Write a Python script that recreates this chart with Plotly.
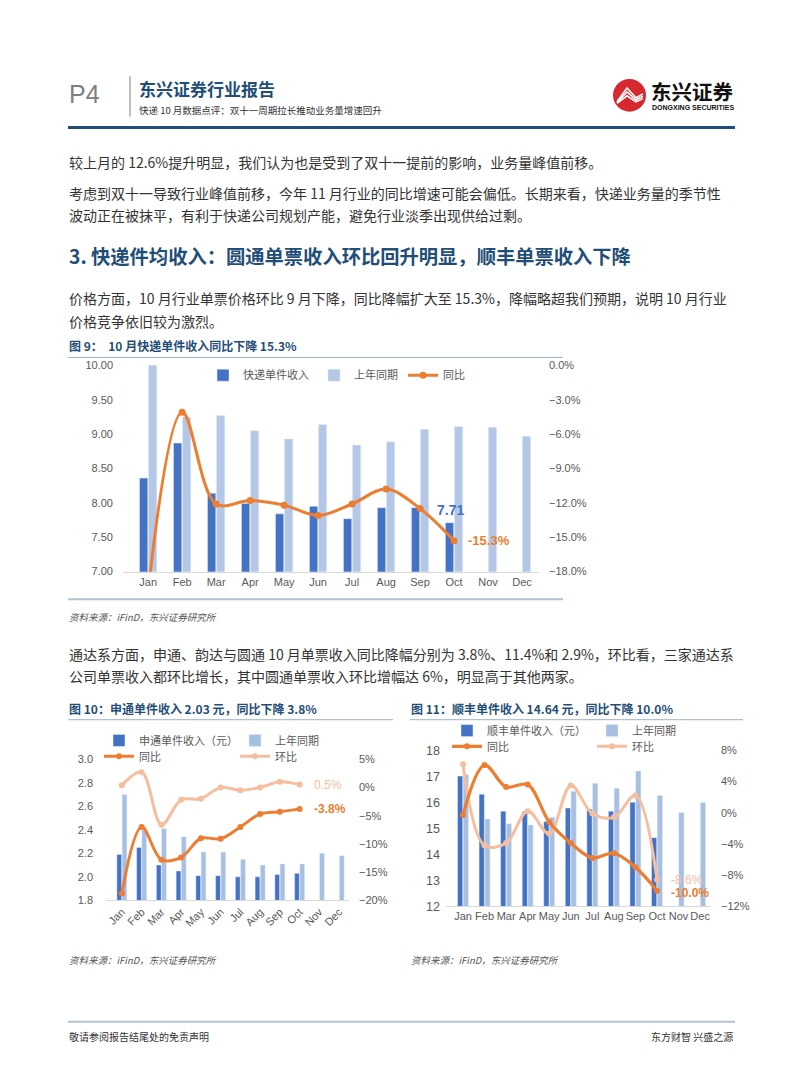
import plotly.graph_objects as go

W, H = 802, 1087
def X(px): return px / W
def Y(py): return 1 - py / H

CJK = "Noto Sans CJK SC"
NUM = "Liberation Sans, Noto Sans CJK SC"

months = ["Jan", "Feb", "Mar", "Apr", "May", "Jun", "Jul", "Aug", "Sep", "Oct", "Nov", "Dec"]
months_ytd = months[:10]

# Figure 9: industry revenue per parcel
ind_rev = [8.36, 8.87, 8.14, 7.99, 7.84, 7.95, 7.77, 7.93, 7.93, 7.71]
ind_rev_ly = [10.40, 9.25, 9.27, 9.05, 8.93, 9.14, 8.84, 8.89, 9.07, 9.11, 9.10, 8.97]
ind_yoy = [-19.6, -4.1, -12.1, -11.8, -12.2, -13.1, -12.1, -10.8, -12.5, -15.3]

# Figure 10: STO
sto_rev = [2.19, 2.25, 2.10, 2.05, 2.01, 2.01, 2.00, 2.00, 2.02, 2.03]
sto_rev_ly = [2.70, 2.40, 2.41, 2.34, 2.21, 2.21, 2.15, 2.10, 2.11, 2.11, 2.20, 2.18]
sto_yoy = [-18.8, -7.0, -12.8, -12.4, -9.0, -9.1, -7.0, -4.7, -4.3, -3.8]
sto_mom = [0.4, 2.7, -6.6, -2.2, -2.0, 0.0, -0.5, 0.0, 1.0, 0.5]

# Figure 11: SF
sf_rev = [17.01, 16.31, 15.66, 15.65, 15.26, 15.78, 15.74, 15.66, 16.00, 14.64]
sf_rev_ly = [17.07, 15.36, 15.17, 15.13, 15.42, 16.42, 16.73, 16.54, 17.20, 16.26, 15.61, 15.99]
sf_yoy = [-0.3, 6.1, 3.3, 3.6, -1.2, -3.9, -5.8, -5.2, -7.0, -10.0]
sf_mom = [6.2, -4.2, -3.9, 0.2, -2.7, 3.5, -0.1, -0.6, 2.2, -8.6]

DARK = "#4472C4"
LIGHT9 = "#B4C7E7"
LIGHT = "#A7BFE0"
ORANGE = "#ED7D31"
PALE = "#F6BE9E"
TICK = "#595959"

fig = go.Figure()

# ---- Figure 9 ----
fig.add_bar(x=months_ytd, y=ind_rev, name="快递单件收入", marker_color=DARK,
            xaxis="x", yaxis="y", legend="legend")
fig.add_bar(x=months, y=ind_rev_ly, name="上年同期", marker_color=LIGHT9,
            xaxis="x", yaxis="y", legend="legend")
fig.add_scatter(x=months_ytd, y=ind_yoy, name="同比", mode="lines+markers",
                line=dict(color=ORANGE, width=3, shape="spline", smoothing=1.0),
                marker=dict(size=7, color=ORANGE), xaxis="x", yaxis="y2",
                legend="legend")

# ---- Figure 10 ----
fig.add_bar(x=months_ytd, y=sto_rev, name="申通单件收入（元）", marker_color=DARK,
            xaxis="x2", yaxis="y3", legend="legend2")
fig.add_bar(x=months, y=sto_rev_ly, name="上年同期", marker_color=LIGHT,
            xaxis="x2", yaxis="y3", legend="legend2")
fig.add_scatter(x=months_ytd, y=sto_mom, name="环比", mode="lines+markers",
                line=dict(color=PALE, width=3, shape="spline", smoothing=1.0),
                marker=dict(size=6, color=PALE), xaxis="x2", yaxis="y4",
                legend="legend3", legendrank=2)
fig.add_scatter(x=months_ytd, y=sto_yoy, name="同比", mode="lines+markers",
                line=dict(color=ORANGE, width=3, shape="spline", smoothing=1.0),
                marker=dict(size=6, color=ORANGE), xaxis="x2", yaxis="y4",
                legend="legend3", legendrank=1)

# ---- Figure 11 ----
fig.add_bar(x=months_ytd, y=sf_rev, name="顺丰单件收入（元）", marker_color=DARK,
            xaxis="x3", yaxis="y5", legend="legend4")
fig.add_bar(x=months, y=sf_rev_ly, name="上年同期", marker_color=LIGHT,
            xaxis="x3", yaxis="y5", legend="legend4")
fig.add_scatter(x=months_ytd, y=sf_mom, name="环比", mode="lines+markers",
                line=dict(color=PALE, width=3, shape="spline", smoothing=1.0),
                marker=dict(size=6, color=PALE), xaxis="x3", yaxis="y6",
                legend="legend5", legendrank=2)
fig.add_scatter(x=months_ytd, y=sf_yoy, name="同比", mode="lines+markers",
                line=dict(color=ORANGE, width=3.2, shape="spline", smoothing=1.0),
                marker=dict(size=6, color=ORANGE), xaxis="x3", yaxis="y6",
                legend="legend5", legendrank=1)

def tf(size):
    return dict(family=NUM, size=size, color=TICK)

def xax(dom, anchor, angle=0, size=11):
    return dict(domain=[X(dom[0]), X(dom[1])], anchor=anchor, categoryorder="array",
                categoryarray=months, showgrid=False, showline=True, linecolor="#D9D9D9",
                linewidth=1, ticks="", tickfont=tf(size), tickangle=angle, zeroline=False,
                fixedrange=True)

def yax(dom, anchor, rng, dtick, fmt, standoff, suffix="", side="left", overlay=None, size=11):
    d = dict(domain=[Y(dom[0]), Y(dom[1])], anchor=anchor, range=rng, dtick=dtick,
             tick0=rng[0], tickformat=fmt, ticksuffix=suffix, showgrid=False,
             zeroline=False, showline=False, ticks="", tickfont=tf(size), side=side,
             ticklabelstandoff=standoff, fixedrange=True)
    if overlay:
        d["overlaying"] = overlay
    return d

legfont = dict(family=CJK, size=11, color=TICK)
def leg(x, y, entry=0):
    d = dict(orientation="h", x=X(x), y=Y(y), xanchor="left", yanchor="middle",
             font=legfont, bgcolor="rgba(0,0,0,0)", itemwidth=30, traceorder="normal")
    if entry:
        d["entrywidth"] = entry
        d["entrywidthmode"] = "pixels"
    return d

fig.update_layout(
    width=W, height=H, margin=dict(l=0, r=0, t=0, b=0),
    paper_bgcolor="white", plot_bgcolor="rgba(0,0,0,0)",
    barmode="group", bargap=0.47, bargroupgap=0.08,
    showlegend=True,
    xaxis=xax((123, 539), "y"),
    yaxis=yax((572, 363), "x", [7, 10], 0.5, ".2f", 9),
    yaxis2=yax((572, 363), "x", [-18, 0], 3, ".1f", 9, "%", "right", "y"),
    xaxis2=xax((106, 349), "y3", -45),
    yaxis3=yax((905, 762), "x2", [1.8, 3.0], 0.2, ".1f", 12),
    yaxis4=yax((905, 762), "x2", [-20, 5], 5, "d", 9, "%", "right", "y3"),
    xaxis3=xax((446, 711), "y5"),
    yaxis5=yax((911, 753), "x3", [12, 18], 1, "d", 5, size=12.5),
    yaxis6=yax((911, 753), "x3", [-12, 8], 4, "d", 9, "%", "right", "y5"),
    legend=leg(203, 373),
    legend2=leg(99, 743, 91),
    legend3=leg(99, 759, 91),
    legend4=leg(447, 733, 100),
    legend5=leg(447, 749, 100),
)

ann = []
def txt(x, y, s, size=14, color="#333333", bold=False, family=CJK, anchor="left", style="normal"):
    ann.append(dict(x=X(x), y=Y(y), xref="paper", yref="paper", text=("<b>%s</b>" % s) if bold else s,
                    showarrow=False, xanchor=anchor, yanchor="middle",
                    font=dict(family=family, size=size, color=color, style=style)))

BLUE = "#1F4E79"
# header
txt(67, 88, "P4", 25, "#808080", family="Liberation Sans")
txt(137, 83, "东兴证券行业报告", 17, BLUE, True)
txt(137, 104, "快递 10 月数据点评：双十一周期拉长推动业务量增速回升", 9.5, "#333333")
txt(649, 85, "东兴证券", 20.5, "#111111", True)
txt(650, 102, "DONGXING SECURITIES", 7, "#111111", True, family="Liberation Sans")

# body text
txt(67, 157, "较上月的 12.6%提升明显，我们认为也是受到了双十一提前的影响，业务量峰值前移。", 14)
txt(67, 188, "考虑到双十一导致行业峰值前移，今年 11 月行业的同比增速可能会偏低。长期来看，快递业务量的季节性", 14)
txt(67, 211, "波动正在被抹平，有利于快递公司规划产能，避免行业淡季出现供给过剩。", 14)
txt(67, 252, "3. 快递件均收入：圆通单票收入环比回升明显，顺丰单票收入下降", 19.3, BLUE, True)
txt(67, 295, "价格方面，10 月行业单票价格环比 9 月下降，同比降幅扩大至 15.3%，降幅略超我们预期，说明 10 月行业", 14)
txt(67, 318, "价格竞争依旧较为激烈。", 14)
txt(67, 343, "图 9：  10 月快递单件收入同比下降 15.3%", 12, BLUE, True)
txt(67, 618, "资料来源：iFinD，东兴证券研究所", 9.5, "#555555", style="italic")
txt(67, 655, "通达系方面，申通、韵达与圆通 10 月单票收入同比降幅分别为 3.8%、11.4%和 2.9%，环比看，三家通达系", 14)
txt(67, 678, "公司单票收入都环比增长，其中圆通单票收入环比增幅达 6%，明显高于其他两家。", 14)
txt(67, 711, "图 10：申通单件收入 2.03 元，同比下降 3.8%", 12, BLUE, True)
txt(409, 711, "图 11：顺丰单件收入 14.64 元，同比下降 10.0%", 12, BLUE, True)
txt(67, 965, "资料来源：iFinD，东兴证券研究所", 9.5, "#555555", style="italic")
txt(409, 965, "资料来源：iFinD，东兴证券研究所", 9.5, "#555555", style="italic")
txt(67, 1043, "敬请参阅报告结尾处的免责声明", 10, "#333333")
txt(735, 1043, "东方财智 兴盛之源", 10, "#333333", anchor="right")

# data labels
def dlab(xr, yr, x, y, s, color, xshift, yshift=0, anchor="left", size=13, bold=True):
    ann.append(dict(x=x, y=y, xref=xr, yref=yr, text=("<b>%s</b>" % s) if bold else s,
                    showarrow=False, xanchor=anchor, yanchor="middle", xshift=xshift,
                    yshift=yshift, font=dict(family=NUM, size=size, color=color)))

dlab("x", "y", "Oct", ind_rev[-1], "%.2f" % ind_rev[-1], DARK, -4, 13, "center", 14)
dlab("x", "y2", "Oct", ind_yoy[-1], "%.1f%%" % ind_yoy[-1], ORANGE, 12, 0, "left", 13)
dlab("x2", "y4", "Oct", sto_mom[-1], "%.1f%%" % sto_mom[-1], PALE, 12, 0, "left", 12, False)
dlab("x2", "y4", "Oct", sto_yoy[-1], "%.1f%%" % sto_yoy[-1], ORANGE, 12, 0, "left", 12)
dlab("x3", "y6", "Oct", sf_mom[-1], "%.1f%%" % sf_mom[-1], PALE, 12, 0, "left", 12, False)
dlab("x3", "y6", "Oct", sf_yoy[-1], "%.1f%%" % sf_yoy[-1], ORANGE, 12, -2, "left", 12)

fig.update_layout(annotations=ann)

shapes = []
def hline(x0, x1, y, color, w):
    shapes.append(dict(type="line", xref="paper", yref="paper", x0=X(x0), x1=X(x1),
                       y0=Y(y), y1=Y(y), line=dict(color=color, width=w)))

shapes.append(dict(type="line", xref="paper", yref="paper", x0=X(130), x1=X(130),
                   y0=Y(70), y1=Y(111), line=dict(color="#808080", width=1)))
hline(68, 735, 122, "#1F4E79", 3)
hline(68, 563, 355, "#9FB3CC", 1)
hline(68, 563, 600, "#B4C2D2", 2)
hline(68, 393, 722, "#9FB3CC", 1)
hline(410, 743, 722, "#9FB3CC", 1)
hline(68, 735, 1028, "#B4C2D2", 2)

# logo: red disc with white stripes
shapes.append(dict(type="circle", xref="paper", yref="paper", x0=X(613), x1=X(646),
                   y0=Y(106), y1=Y(73), fillcolor="#D7282F", line=dict(width=0)))
def path(pts):
    s = "M %f %f" % (X(pts[0][0]), Y(pts[0][1]))
    for p in pts[1:]:
        s += " L %f %f" % (X(p[0]), Y(p[1]))
    return s
for off in (0, 4, 8):
    shapes.append(dict(type="path", xref="paper", yref="paper",
                       path=path([(617, 96 + off * 0.2), (627, 82 + off), (636, 92 + off * 0.5), (643, 88 + off * 0.6)]),
                       line=dict(color="white", width=1.6)))
fig.update_layout(shapes=shapes)

fig.write_html("out.html",
               config={"displayModeBar": False},
               post_script="document.body.style.margin='0';document.body.style.overflow='hidden';")
